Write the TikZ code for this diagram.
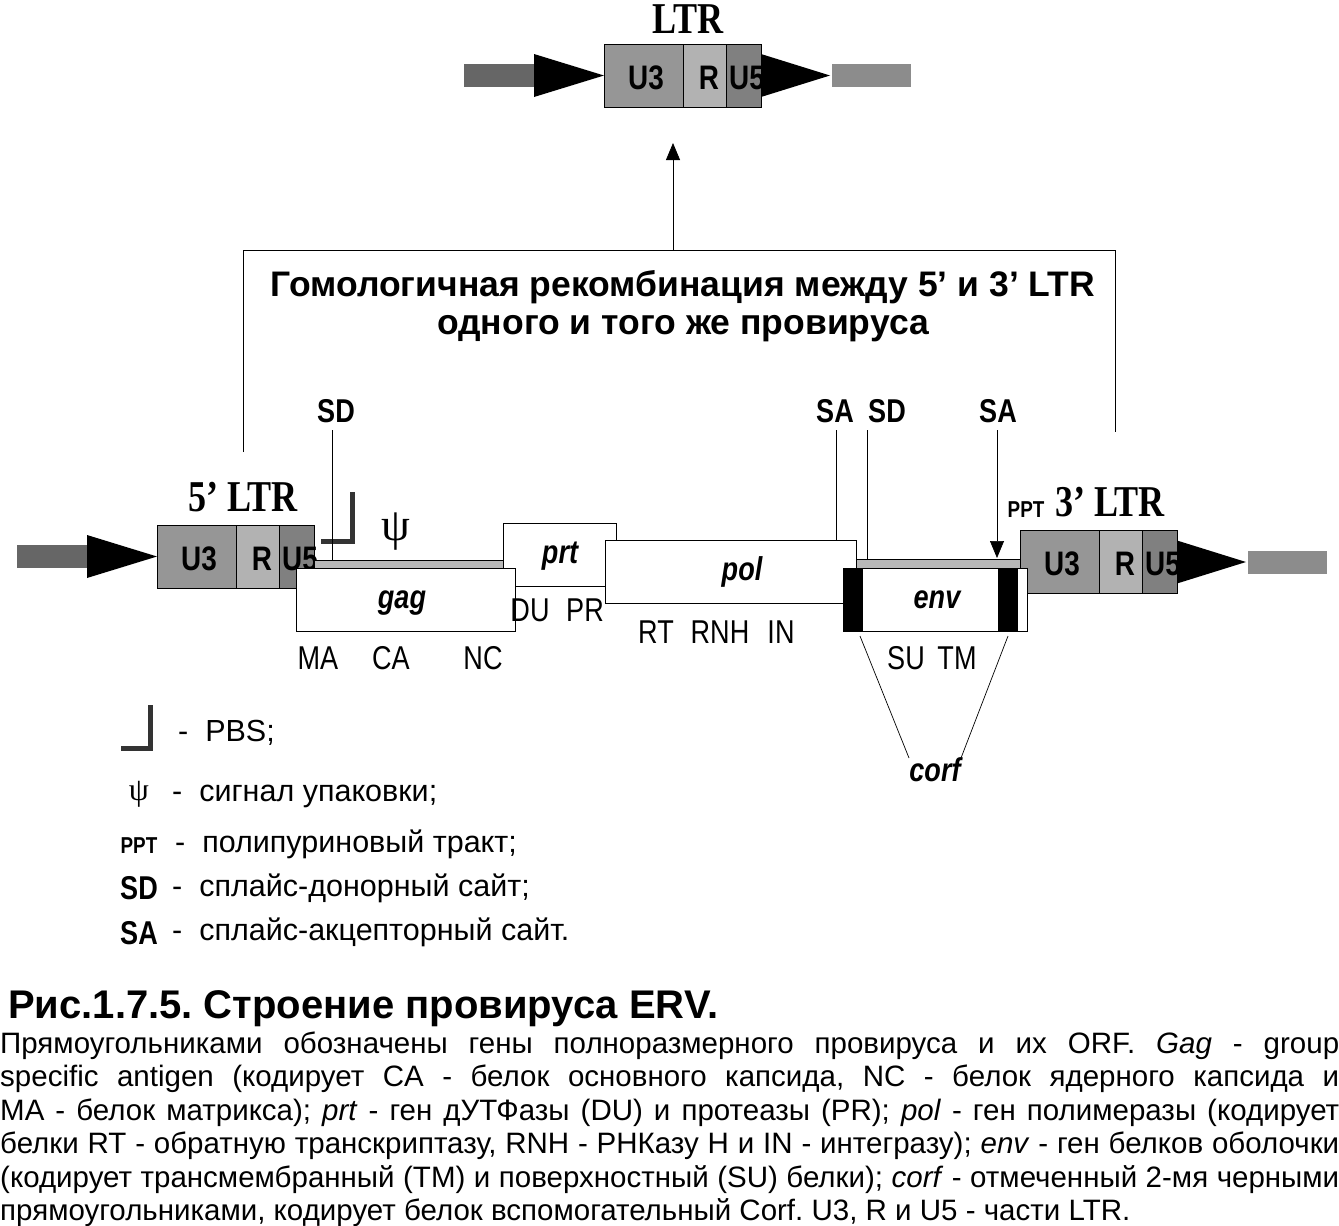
\documentclass[tikz,border=0pt]{standalone}
\usepackage{fontspec}
\setmainfont{Liberation Sans}
\newfontfamily\narrowsf[FakeStretch=0.82]{Liberation Sans}
\newfontfamily\ltrserif[FakeStretch=0.82]{Liberation Serif}
\newfontfamily\psiserif{Liberation Serif}
\usetikzlibrary{arrows.meta}
\frenchspacing

\definecolor{uthree}{gray}{0.59}
\definecolor{rpart}{gray}{0.70}
\definecolor{ufive}{gray}{0.50}
\definecolor{flankdark}{gray}{0.40}
\definecolor{flanklight}{gray}{0.55}
\definecolor{genebar}{gray}{0.72}
\definecolor{pbsline}{gray}{0.20}

\tikzset{
  txt/.style={inner sep=0pt, anchor=base},
  lbl/.style={txt, font=\narrowsf\fontsize{33}{36}\selectfont},
  part/.style={txt, font=\narrowsf\bfseries\fontsize{34}{36}\selectfont},
  site/.style={txt, font=\narrowsf\bfseries\fontsize{33}{36}\selectfont},
  gene/.style={txt, font=\narrowsf\bfseries\itshape\fontsize{33}{36}\selectfont},
  ltrlbl/.style={txt, font=\ltrserif\bfseries\fontsize{44}{46}\selectfont},
  ppt/.style={txt, font=\narrowsf\bfseries\fontsize{23}{25}\selectfont},
  head/.style={txt, font=\bfseries\fontsize{35.5}{38}\selectfont},
  legend/.style={txt, anchor=base west, font=\fontsize{30.5}{32}\selectfont},
  body/.style={txt, anchor=base west, font=\fontsize{29.5}{33}\selectfont},
  genebox/.style={draw, fill=white, line width=1pt},
  thinbar/.style={draw, fill=genebar, line width=0.8pt},
  tip/.style={-{Triangle[length=17pt,width=14pt]}},
}

% LTR block: #1 left edge of U3, #2 centre line, #3 name prefix
\newcommand{\ltrbox}[3]{%
  \filldraw[fill=uthree, line width=1pt] (#1,#2-31.5) rectangle (#1+79,#2+31.5);
  \filldraw[fill=rpart, line width=1pt] (#1+79,#2-31.5) rectangle (#1+122,#2+31.5);
  \filldraw[fill=ufive, line width=1pt] (#1+122,#2-31.5) rectangle (#1+157,#2+31.5);
}
\newcommand{\ltrtext}[3]{%
  \node[part] (#3u3) at (#1+42,#2+13.5) {U3};
  \node[part] (#3r) at (#1+105,#2+13.5) {R};
  \node[part] (#3u5) at (#1+143,#2+13.5) {U5};
}
\newcommand{\flankleft}[2]{%
  \fill[flankdark] (#1-140,#2-11.5) rectangle (#1-70,#2+11.5);
  \fill[black] (#1-70,#2-21.5) -- (#1,#2) -- (#1-70,#2+21.5) -- cycle;
}
\newcommand{\flankright}[2]{%
  \fill[black] (#1+157,#2-21.5) -- (#1+226,#2) -- (#1+157,#2+21.5) -- cycle;
  \fill[flanklight] (#1+228,#2-11.5) rectangle (#1+307,#2+11.5);
}
\newcommand{\fullline}[1]{\hbox to 1339pt{#1}}

\begin{document}
\begin{tikzpicture}[x=1pt, y=-1pt]
  \useasboundingbox[fill=white] (0,0) rectangle (1339,1226);

  % single LTR after recombination
  \node[ltrlbl] (ltrtop) at (688,33) {LTR};
  \flankleft{604}{75.5}
  \flankright{604}{75.5}
  \ltrbox{604}{75.5}{top}
  \ltrtext{604}{75.5}{top}

  % bracket and arrow
  \coordinate (brleft) at (243,452);
  \coordinate (brright) at (1115,432);
  \coordinate (brmid) at (673,250);
  \coordinate (arrowend) at (673,143);
  \draw[line width=0.8pt] (brleft) -- (243,250) -- (1115,250) -- (brright);
  \draw[tip, line width=0.8pt] (brmid) -- (arrowend);
  \node[head] (recomb1) at (683,296) {Гомологичная рекомбинация между 5’ и 3’ LTR};
  \node[head] (recomb2) at (683,334) {одного и того же провируса};

  % 5' LTR
  \node[ltrlbl] (ltrfive) at (243,511) {5’ LTR};
  \flankleft{157}{556.5}
  \ltrbox{157}{556.5}{five}
  \ltrtext{157}{556.5}{five}

  % 3' LTR
  \node[ppt] (pptlbl) at (1026,517) {PPT};
  \node[ltrlbl] (ltrthree) at (1110,516) {3’ LTR};
  \flankright{1020}{562}
  \ltrbox{1020}{562}{three}
  \ltrtext{1020}{562}{three}

  % provirus line
  \draw[thinbar] (314,560) rectangle (503,568);
  \draw[thinbar] (856,559) rectangle (1020,568);

  % genes
  \draw[genebox] (503,523) rectangle (616,586);
  \node[gene] (prt) at (560,563) {prt};
  \draw[genebox] (296,568) rectangle (515,631);
  \node[gene] (gag) at (402,608) {gag};
  \draw[genebox] (605,540) rectangle (856,603);
  \node[gene] (pol) at (742,580) {pol};
  \draw[genebox] (843,568) rectangle (1027,631);
  \fill[black] (843,568) rectangle (863,631);
  \fill[black] (998,568) rectangle (1018,631);
  \node[gene] (env) at (937,608) {env};

  % protein labels
  \node[lbl] (ma) at (318,669) {MA};
  \node[lbl] (ca) at (391,669) {CA};
  \node[lbl] (nc) at (483,669) {NC};
  \node[lbl] (du) at (530,621) {DU};
  \node[lbl] (pr) at (585,621) {PR};
  \node[lbl] (rt) at (656,643) {RT};
  \node[lbl] (rnh) at (720,643) {RNH};
  \node[lbl] (in) at (781,643) {IN};
  \node[lbl] (su) at (906,669) {SU};
  \node[lbl] (tm) at (957,669) {TM};

  % corf
  \node[gene] (corf) at (935,781) {corf};
  \draw[line width=0.7pt] (860,636) -- (909,758);
  \draw[line width=0.7pt] (1008,636) -- (961,758);

  % PBS and psi
  \draw[pbsline, line width=5pt] (352,492) -- (352,541) -- (321,541);
  \node[txt, font=\psiserif\fontsize{46}{48}\selectfont] (psi) at (396,540) {ψ};

  % splice sites
  \node[site] (sd1) at (336,422) {SD};
  \node[site] (sa1) at (835,422) {SA};
  \node[site] (sd2) at (887,422) {SD};
  \node[site] (sa2) at (998,422) {SA};
  \draw[line width=0.7pt] (332,430) -- (332,560);
  \draw[line width=0.7pt] (836,430) -- (836,540);
  \draw[line width=0.7pt] (867,430) -- (867,559);
  \draw[tip, line width=0.7pt] (997,430) -- (997,558);

  % legend
  \draw[pbsline, line width=5pt] (150,705) -- (150,748) -- (121,748);
  \node[legend] (lgpbs) at (178,741) {-\ \ PBS;};
  \node[txt, font=\psiserif\fontsize{32}{34}\selectfont] (lgpsi) at (139,800) {ψ};
  \node[legend] (lgpsitxt) at (172,801) {-\ \ сигнал упаковки;};
  \node[ppt] (lgppt) at (139,853) {PPT};
  \node[legend] (lgppttxt) at (175,852) {-\ \ полипуриновый тракт;};
  \node[site] (lgsd) at (139,899) {SD};
  \node[legend] (lgsdtxt) at (172,896) {-\ \ сплайс-донорный сайт;};
  \node[site] (lgsa) at (139,944) {SA};
  \node[legend] (lgsatxt) at (172,940) {-\ \ сплайс-акцепторный сайт.};

  % caption
  \node[txt, anchor=base west, font=\bfseries\fontsize{40}{42}\selectfont] (title) at (8,1018) {Рис.1.7.5. Строение провируса ERV.};
  \node[body] (cap1) at (0,1053) {\fullline{Прямоугольниками обозначены гены полноразмерного провируса и их ORF. \textit{Gag} - group}};
  \node[body] (cap2) at (0,1086.5) {\fullline{specific antigen (кодирует CA - белок основного капсида, NC - белок ядерного капсида и}};
  \node[body] (cap3) at (0,1120) {\fullline{MA - белок матрикса); \textit{prt} - ген дУТФазы (DU) и протеазы (PR); \textit{pol} - ген полимеразы (кодирует}};
  \node[body] (cap4) at (0,1153.5) {\fullline{белки RT - обратную транскриптазу, RNH - РНКазу H и IN - интегразу); \textit{env} - ген белков оболочки}};
  \node[body] (cap5) at (0,1187) {\fullline{(кодирует трансмембранный (TM) и поверхностный (SU) белки); \textit{corf} - отмеченный 2-мя черными}};
  \node[body] (cap6) at (0,1220.5) {прямоугольниками, кодирует белок вспомогательный Corf. U3, R и U5 - части LTR.};
\end{tikzpicture}
\end{document}
